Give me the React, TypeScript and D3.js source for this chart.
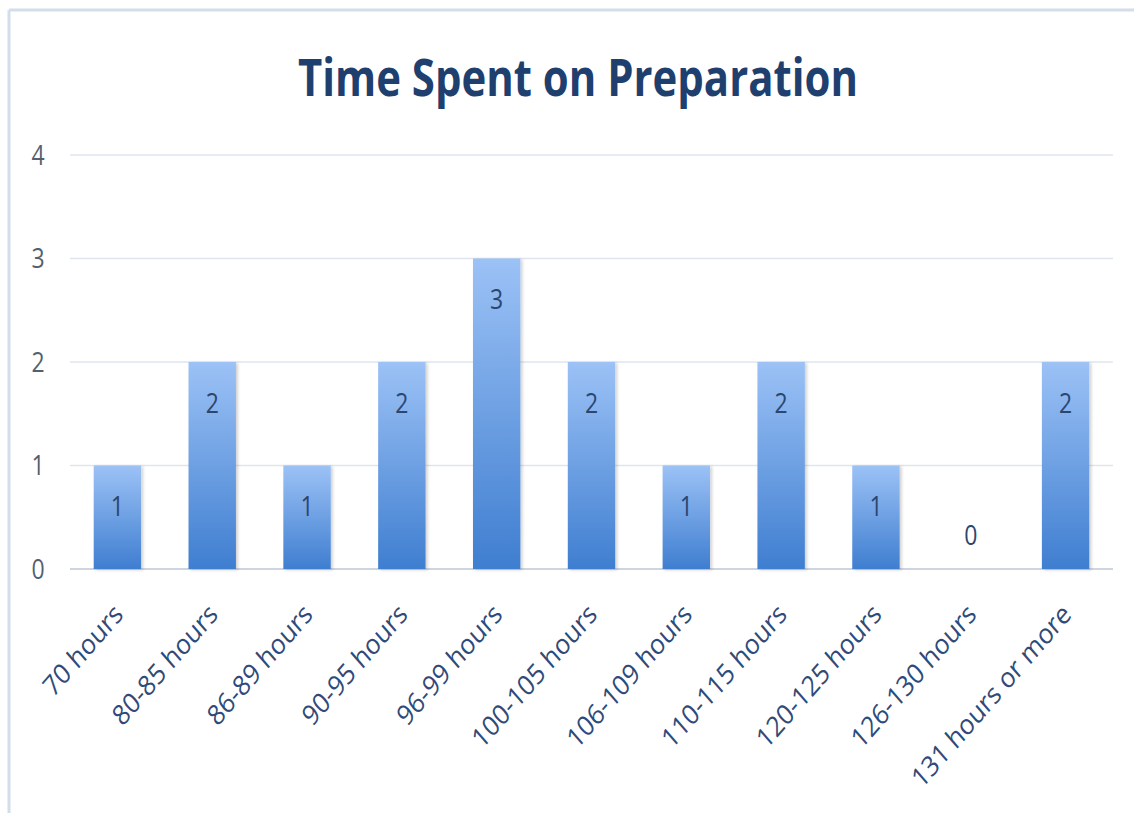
import React from "react";
import * as d3 from "d3";

const categories = [
  "70 hours",
  "80-85 hours",
  "86-89 hours",
  "90-95 hours",
  "96-99 hours",
  "100-105 hours",
  "106-109 hours",
  "110-115 hours",
  "120-125 hours",
  "126-130 hours",
  "131 hours or more",
];
const counts = [1, 2, 1, 2, 3, 2, 1, 2, 1, 0, 2];
const yTicks = [0, 1, 2, 3, 4];
const title = "Time Spent on Preparation";

const W = 1134;
const H = 813;
const left = 70;
const right = 1113;
const top = 155;
const bottom = 569;
const SY = 1.15;

export default function App() {
  const x = d3.scaleBand<string>().domain(categories).range([left, right]).paddingInner(0.5).paddingOuter(0.25);
  const y = d3.scaleLinear().domain([0, 4]).range([bottom, top]);
  const font = "'Open Sans', 'Noto Sans', sans-serif";
  return (
    <svg
      width={W}
      height={H}
      style={{ position: "absolute", left: 0, top: 0, display: "block", background: "#ffffff" }}
    >
      <defs>
        <linearGradient id="barGrad" x1="0" y1="0" x2="0" y2="1">
          <stop offset="0%" stopColor="#9cc2f6" />
          <stop offset="100%" stopColor="#3f7ed0" />
        </linearGradient>
        <filter id="sh" x="-20%" y="-5%" width="140%" height="110%">
          <feDropShadow dx="2" dy="1" stdDeviation="1.5" floodColor="#000" floodOpacity="0.18" />
        </filter>
      </defs>
      <rect x={0} y={0} width={W} height={H} fill="#ffffff" />
      <line x1={9} x2={9} y1={10} y2={H} stroke="#d3deec" strokeWidth={3} />
      <line x1={9} x2={W} y1={10} y2={10} stroke="#d3deec" strokeWidth={3} />
      <g transform={`translate(578,96) scale(1,${SY})`}>
        <text
          x={0}
          y={0}
          textAnchor="middle"
          fontFamily={font}
          fontWeight={700}
          fontSize={45}
          fill="#1f3f6f"
          textLength={560}
          lengthAdjust="spacingAndGlyphs"
        >
          {title}
        </text>
      </g>
      {yTicks.map((t) => (
        <g key={t}>
          <line
            x1={left}
            x2={right}
            y1={y(t)}
            y2={y(t)}
            stroke={t === 0 ? "#cfd5de" : "#dfe5ee"}
            strokeWidth={t === 0 ? 2 : 1.5}
          />
          <g transform={`translate(38,${y(t)}) scale(1,${SY})`}>
            <text
              x={0}
              y={0}
              dy="0.36em"
              textAnchor="middle"
              fontFamily={font}
              fontSize={23}
              fill="#545f70"
            >
              {t}
            </text>
          </g>
        </g>
      ))}
      {categories.map((c, i) => {
        const v = counts[i];
        const bx = x(c)!;
        const bw = x.bandwidth();
        const cx = bx + bw / 2;
        const ly = v === 0 ? y(0) - 34 : y(v) + 41;
        return (
          <g key={c}>
            {v > 0 && (
              <rect
                x={bx}
                y={y(v)}
                width={bw}
                height={y(0) - y(v)}
                fill="url(#barGrad)"
                filter="url(#sh)"
              />
            )}
            <g transform={`translate(${cx},${ly}) scale(1,${SY})`}>
              <text
                x={0}
                y={0}
                dy="0.36em"
                textAnchor="middle"
                fontFamily={font}
                fontSize={23}
                fill="#2c466e"
              >
                {v}
              </text>
            </g>
            <g transform={`translate(${cx + 1},${y(0) + 40}) scale(1,${SY}) rotate(-45)`}>
              <text
                x={0}
                y={0}
                textAnchor="end"
                dy="0.35em"
                fontFamily={font}
                fontSize={24.5}
                fill="#2f4a78"
              >
                {c}
              </text>
            </g>
          </g>
        );
      })}
    </svg>
  );
}
